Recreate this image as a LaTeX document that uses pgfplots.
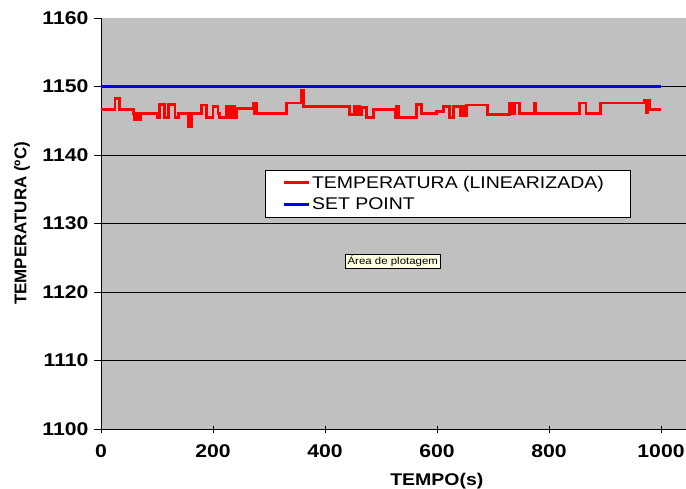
\documentclass[border=0pt]{standalone}
\usepackage{fontspec}
\setmainfont{Liberation Sans}[FakeStretch=1.15]
\newfontfamily\plainsans{Liberation Sans}
\usepackage{pgfplots}
\pgfplotsset{compat=1.18}
\definecolor{plotgray}{HTML}{C0C0C0}
\definecolor{tipyellow}{HTML}{FFFFE1}
\definecolor{setblue}{HTML}{0000F0}
\begin{document}
\begin{tikzpicture}
\begin{axis}[
  scale only axis, width=585bp, height=411bp,
  xmin=0, xmax=1044.6, ymin=1100, ymax=1160,
  axis lines*=left,
  axis line style={black, line width=0.9bp},
  axis background/.style={fill=plotgray},
  ytick={1100,1110,...,1150},
  extra y ticks={1160}, extra y tick style={grid=none, tick align=outside},
  xtick={0,200,...,1000},
  ymajorgrids, grid style={black, line width=0.8bp},
  tick style={black, line width=0.9bp}, major tick length=7bp,
  tick align=outside, xtick align=center,
  /pgf/number format/assume math mode=true,
  /pgf/number format/1000 sep={},
  tick label style={font=\fontsize{18.5}{21}\selectfont\bfseries},
  yticklabel style={xshift=-2bp},
  xticklabel style={yshift=-9bp},
  xlabel={TEMPO(s)}, ylabel={TEMPERATURA (ºC)},
  xlabel style={font=\fontsize{17}{20}\selectfont\bfseries, at={(axis description cs:0.574,-0.126)}, anchor=center},
  ylabel style={font=\fontsize{17}{20}\plainsans\bfseries, at={(axis description cs:-0.135,0.5)}, anchor=center},
  legend style={at={(axis cs:292.9,1137.8)}, anchor=north west, draw=none, fill=none,
    font=\fontsize{17}{20}\selectfont, inner xsep=4bp, inner ysep=2bp, row sep=4.5bp,
    xshift=13bp, yshift=-1.5bp},
  legend cell align=left,
  legend image code/.code={\draw[#1] (0bp,0bp) -- (25bp,0bp);},
  clip=true,
]
\draw[black, fill=white, line width=0.8bp] (axis cs:292.9,1137.8) rectangle (axis cs:944.6,1130.95);
\addplot[red, line width=2.8bp, const plot, mark=none] coordinates {
(0,1146.6) (25,1148.3) (33,1146.6) (58,1146.1) (60,1145.1) (63,1146.1) (68,1145.1) (71,1146.1)
(101,1145.5) (104,1147.4) (114,1145.5) (120,1147.4) (132,1145.5) (138,1146.1) (156,1144.2)
(162,1146.1) (180,1147.3) (189,1145.5) (200,1147.1) (209,1146.1) (212,1145.5) (224,1147.1)
(229,1145.5) (233,1147.1) (238,1145.5) (242,1146.8) (272,1147.6) (274,1146.0) (276,1147.6)
(278,1146.0) (281,1146.1) (331,1147.6) (358,1149.4) (361,1147.1) (444,1145.9) (453,1147.1)
(456,1145.9) (459,1147.1) (462,1145.9) (465,1146.9) (474,1145.5) (486,1146.6) (525,1145.5)
(528,1147.1) (531,1145.5) (564,1147.4) (572,1146.1) (599,1146.3) (611,1147.1) (623,1145.5)
(629,1147.1) (641,1145.7) (645,1147.1) (648,1145.7) (652,1147.3) (690,1145.9) (729,1147.6)
(731,1146.0) (734,1147.6) (736,1146.0) (738,1147.6) (747,1146.1) (773,1147.6) (776,1146.1)
(854,1147.6) (866,1146.1) (892,1147.6) (970,1148.0) (973,1146.2) (976,1148.0) (979,1146.6)
(1000,1146.6)
};
\addlegendentry{TEMPERATURA (LINEARIZADA)}
\addplot[setblue, line width=2.6bp, mark=none] coordinates {(0,1150) (1000,1150)};
\addlegendentry{SET POINT}
\node[fill=tipyellow, draw=black, line width=0.5bp, font=\fontsize{10}{12}\selectfont, inner sep=2bp]
  at (axis cs:521,1124.5) {Área de plotagem};
\end{axis}
\pgfresetboundingbox
\path[use as bounding box] ([xshift=-101bp,yshift=-60bp]current axis.south west) rectangle ([yshift=18bp]current axis.north east);
\end{tikzpicture}
\end{document}
